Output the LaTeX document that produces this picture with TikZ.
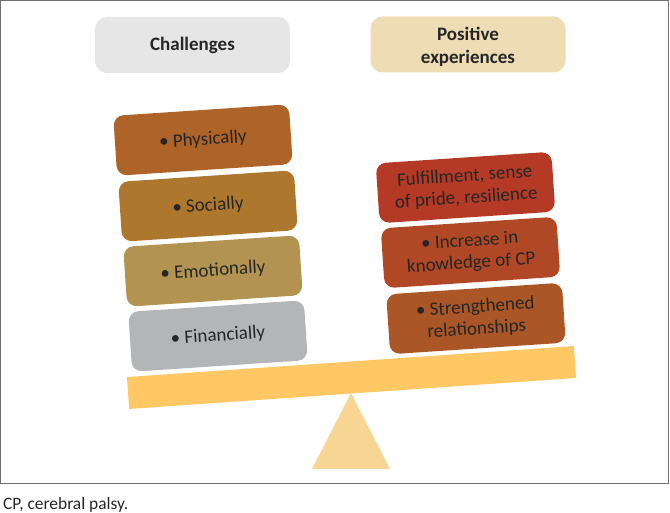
\documentclass[tikz,border=0pt]{standalone}
\usepackage{fontspec}
\setmainfont{Carlito}
\begin{document}
\begin{tikzpicture}[x=1pt,y=-1pt,
  every node/.style={text=txt},
  head/.style={rounded corners=12pt, minimum width=195pt, minimum height=56pt, align=center, font=\fontsize{19}{23}\selectfont\bfseries},
  item/.style={rounded corners=10pt, minimum width=176pt, minimum height=60pt, align=center, rotate=3.8, font=\fontsize{19}{22}\selectfont, inner sep=2pt}]
\definecolor{txt}{HTML}{262626}
\definecolor{frame}{HTML}{6F6F6F}
\definecolor{cGray}{HTML}{E6E6E6}
\definecolor{cBeige}{HTML}{EEDCB5}
\definecolor{cPhys}{HTML}{AE6329}
\definecolor{cSoc}{HTML}{AD782E}
\definecolor{cEmo}{HTML}{B39352}
\definecolor{cFin}{HTML}{B4B5B7}
\definecolor{cFul}{HTML}{B53A26}
\definecolor{cInc}{HTML}{B04826}
\definecolor{cStr}{HTML}{AB5627}
\definecolor{cBeam}{HTML}{FFC864}
\definecolor{cTri}{HTML}{F7D592}
\useasboundingbox (0,0) rectangle (670,513);
\draw[frame, line width=1.3pt] (0.7,0.7) rectangle (668.8,483.5);
% headers
\node[head, fill=cGray] (chal) at (192.5,45) {Challenges};
\node[head, fill=cBeige] (pos) at (468,44.5) {\rule{0pt}{17pt}Positive\\experiences};
% left stack
\node[item, fill=cPhys] (phys) at (203,140) {• Physically};
\node[item, fill=cSoc] (soc) at (208,206) {• Socially};
\node[item, fill=cEmo] (emo) at (213,271) {• Emotionally};
\node[item, fill=cFin] (fin) at (218,336) {• Financially};
% right stack
\node[item, fill=cFul] (ful) at (465.5,187.5) {Fulfillment, sense\\of pride, resilience};
\node[item, fill=cInc] (inc) at (470.5,252.5) {• Increase in\\knowledge of CP};
\node[item, fill=cStr] (str) at (476,318.5) {• Strengthened\\relationships};
% beam and fulcrum
\node[fill=cBeam, minimum width=448pt, minimum height=32pt, rotate=3.97, inner sep=0pt] (beam) at (351.5,377.5) {};
\fill[cTri] (351,393) -- (390,469) -- (312,469) -- cycle;
% caption
\node[anchor=base west, font=\fontsize{17.4}{20}\selectfont, inner sep=0pt] (cap) at (3,509) {CP, cerebral palsy.};
\end{tikzpicture}
\end{document}
